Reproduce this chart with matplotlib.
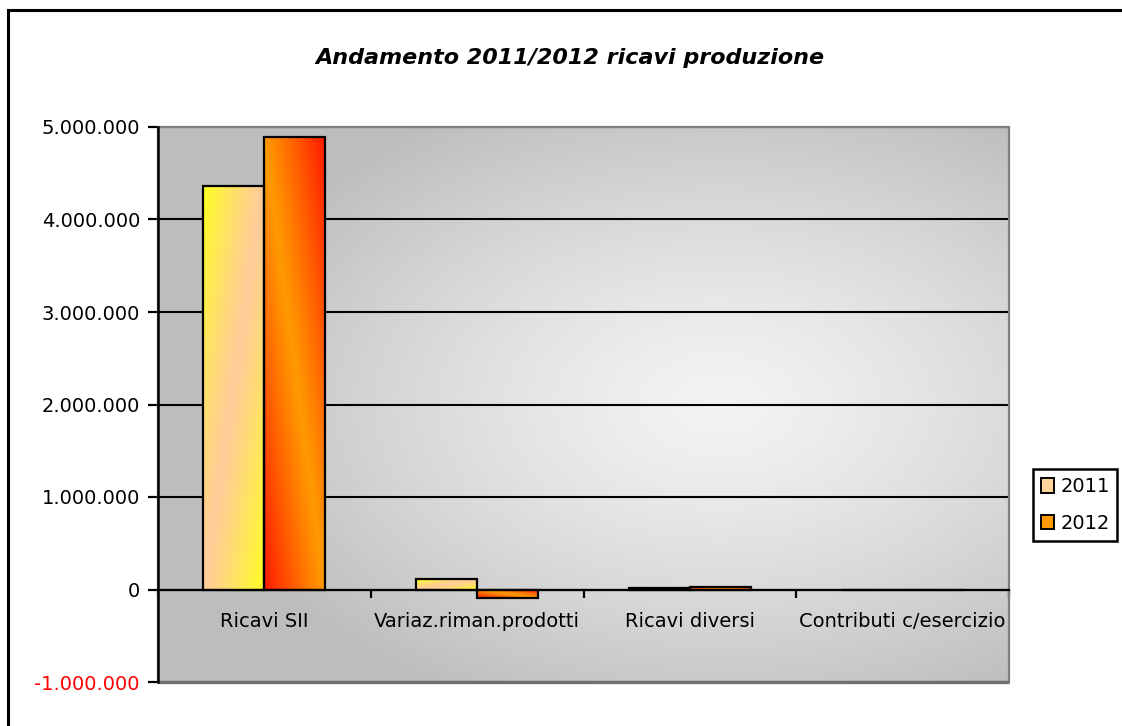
import numpy as np
import matplotlib.pyplot as plt
from matplotlib.patches import Rectangle, Patch
from matplotlib.lines import Line2D
from matplotlib.ticker import FuncFormatter
from matplotlib.colors import to_rgb

# ---- data -------------------------------------------------------------
categories = ["Ricavi SII", "Variaz.riman.prodotti", "Ricavi diversi",
              "Contributi c/esercizio"]
series_names = ["2011", "2012"]
values_2011 = [4362000, 110000, 12000, 0]
values_2012 = [4889000, -95000, 30000, 0]
y_ticks = [-1000000, 0, 1000000, 2000000, 3000000, 4000000, 5000000]
title = "Andamento 2011/2012 ricavi produzione"

# ---- figure / axes ----------------------------------------------------
W, H = 1122, 726
fig = plt.figure(figsize=(W / 100, H / 100), dpi=100)
fig.patch.set_facecolor("white")
ax = fig.add_axes([158 / W, 1 - 682 / H, (1009 - 158) / W, (682 - 127) / H])

n = len(categories)

# grey radial backdrop of the plot area
gy, gx = np.mgrid[0:1:200j, 0:1:300j]
r = np.sqrt(((gx - 0.66) / 0.62) ** 2 + ((gy - 0.5) / 0.6) ** 2)
shade = 0.955 - 0.21 * np.clip(r, 0, 1) ** 1.3
bg = np.dstack([shade, shade, shade])
ax.imshow(bg, extent=(0, n, y_ticks[0], y_ticks[-1]), origin="lower",
          aspect="auto", zorder=0, interpolation="bilinear")

# horizontal gridlines
for t in y_ticks[1:]:
    ax.axhline(t, color="black", lw=1.5, zorder=1)


def diag_gradient(c_mid, c_corner, rising, gamma=1.0):
    """Linear diagonal blend: c_corner at two opposite corners, c_mid along
    the other diagonal. rising=True puts the corners top-right/bottom-left."""
    v, u = np.mgrid[0:1:80j, 0:1:80j]
    d = np.abs(u + v - 1) if rising else np.abs(u - v)
    t = np.clip(d, 0, 1)[..., None] ** gamma
    a = np.array(to_rgb(c_mid))
    b = np.array(to_rgb(c_corner))
    return a * (1 - t) + b * t


grad_2011 = diag_gradient("#FFCC99", "#FFFF22", rising=False, gamma=1.2)
grad_2012 = diag_gradient("#FF9900", "#FF1A00", rising=True, gamma=1.1)

bar_w = 61 / 212.75
centers = np.arange(n) + 0.5
for vals, grad, offset in ((values_2011, grad_2011, -bar_w),
                           (values_2012, grad_2012, 0.0)):
    bars = ax.bar(centers + offset, vals, width=bar_w, align="edge",
                  facecolor="none", edgecolor="black", linewidth=1.6,
                  zorder=3)
    for b, v in zip(bars, vals):
        if v == 0:
            continue
        x0, y0 = b.get_x(), b.get_y()
        x1, y1 = x0 + b.get_width(), y0 + b.get_height()
        im = ax.imshow(grad, extent=(x0, x1, min(y0, y1), max(y0, y1)),
                       origin="lower", aspect="auto", zorder=2,
                       interpolation="bilinear")
        im.set_clip_path(b)
ax.set_xlim(0, n)
ax.set_ylim(y_ticks[0], y_ticks[-1])

# axes styling
for s in ("top", "right"):
    ax.spines[s].set_visible(False)
ax.spines["bottom"].set_position(("data", 0))
ax.spines["bottom"].set_linewidth(1.6)
ax.spines["bottom"].set_zorder(4)
ax.spines["left"].set_linewidth(1.8)
ax.spines["left"].set_zorder(5)

# plot-area frame
ax.add_patch(Rectangle((0, 0), 1, 1, transform=ax.transAxes, fill=False,
                       edgecolor="#808080", lw=1.6, clip_on=False, zorder=4))
ax.plot([0, 1], [0, 0], transform=ax.transAxes, color="#707070", lw=2.4,
        clip_on=False, zorder=4, solid_capstyle="butt")

ax.set_yticks(y_ticks)
ax.yaxis.set_major_formatter(
    FuncFormatter(lambda v, p: f"{int(v):,}".replace(",", ".")))
ax.tick_params(axis="y", direction="out", length=7, width=1.6, pad=6,
               labelsize=14, colors="black")
for lbl, t in zip(ax.get_yticklabels(), y_ticks):
    if t < 0:
        lbl.set_color("#FF0000")

ax.set_xticks(np.arange(n + 1))
ax.set_xticklabels([])
ax.set_xticks(centers, minor=True)
ax.set_xticklabels(categories, minor=True)
ax.tick_params(axis="x", which="major", direction="out", length=6, width=1.6)
ax.tick_params(axis="x", which="minor", length=0, pad=16, labelsize=14)

# title
fig.text(570 / W, 1 - 58 / H, title, ha="center", va="center",
         fontsize=16, fontweight="bold", style="italic")

# legend
handles = [Patch(facecolor="#FFD49A", edgecolor="black", lw=1.4),
           Patch(facecolor="#FF9900", edgecolor="black", lw=1.4)]
leg = fig.legend(handles, series_names, loc="center left",
                 bbox_to_anchor=(1033 / W, 1 - 505 / H), fontsize=14,
                 frameon=True, fancybox=False, edgecolor="black",
                 framealpha=1, handlelength=0.7, handleheight=0.75,
                 handletextpad=0.3, labelspacing=0.9, borderpad=0.4,
                 borderaxespad=0)
leg.get_frame().set_linewidth(1.8)

# chart border (left and top edges visible)
fig.add_artist(Line2D([8 / W, 8 / W], [0, 1 - 10 / H], color="black",
                      lw=2.2, transform=fig.transFigure))
fig.add_artist(Line2D([8 / W, 1], [1 - 10 / H, 1 - 10 / H], color="black",
                      lw=2.2, transform=fig.transFigure))

fig.savefig("out.png", dpi=100)
